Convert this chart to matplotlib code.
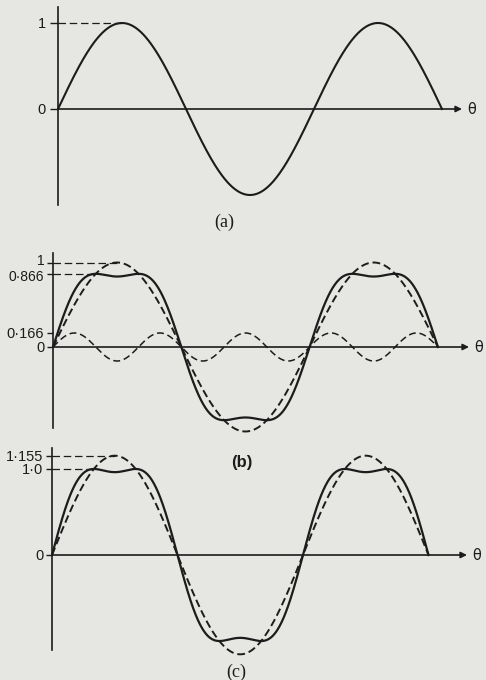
import numpy as np
import matplotlib.pyplot as plt
from matplotlib.transforms import ScaledTranslation

# values
half_cycles = 3                  # every trace runs from 0 to 3*pi
fund_amp = [1.0, 1.0, 1.155]     # peak of the plain sine in (a), (b), (c)
third_ratio = 0.166              # third harmonic, fraction of the fundamental
levels_a = [0, 1]
labels_a = ['0', '1']
levels_b = [0, 0.166, 0.866, 1]
labels_b = ['0', '0·166', '0·866', '1']
levels_c = [0, 1.0, 1.155]
labels_c = ['0', '1·0', '1·155']
panel_names = ['(a)', '(b)', '(c)']

W, H = 486, 680
ink = '#1c1c1c'
paper = '#e6e6e3'

fig = plt.figure(figsize=(W / 100, H / 100), dpi=100, facecolor=paper)


def panel(x0, x1, ytop, ybot, yzero, unit, px_pi, levels, labels, tick=4.3, pad=2):
    ax = fig.add_axes([x0 / W, 1 - ybot / H, (x1 - x0) / W, (ybot - ytop) / H])
    ax.set_facecolor('none')
    ax.set_xlim(0, (x1 - x0) / px_pi * np.pi)
    ax.set_ylim((yzero - ybot) / unit, (yzero - ytop) / unit)
    for s in ['top', 'right', 'bottom']:
        ax.spines[s].set_visible(False)
    ax.spines['left'].set_linewidth(1.2)
    ax.spines['left'].set_color(ink)
    ax.set_xticks([])
    ax.set_yticks(levels)
    ax.set_yticklabels(labels, fontsize=10.5, family='Liberation Sans', color=ink)
    ax.tick_params(axis='y', direction='out', length=tick, width=1.0, pad=pad, color=ink)
    ax.annotate('', xy=(ax.get_xlim()[1], 0), xytext=(0, 0),
                arrowprops=dict(arrowstyle='-|>', lw=1.2, color=ink,
                                mutation_scale=9, shrinkA=0, shrinkB=0))
    ax.annotate('θ', xy=(ax.get_xlim()[1], 0), xytext=(3.5, 0),
                textcoords='offset points', va='center', ha='left',
                fontsize=10.5, family='DejaVu Sans', color=ink)
    return ax


def ref_line(ax, th, y):
    i = np.argmax(y)
    ax.plot([0, th[i]], [y[i], y[i]], color=ink, lw=0.9, dashes=(6, 3),
            clip_on=False)


th = np.linspace(0, half_cycles * np.pi, 900)

# (a) plain sine
ax = panel(58, 462, 7, 205, 109, 86, 128, levels_a, labels_a, tick=6, pad=3)
ya = fund_amp[0] * np.sin(th)
ax.plot(th, ya, color=ink, lw=1.5, clip_on=False)
ref_line(ax, th, ya)

# (b) sine, third harmonic and their sum
ax = panel(53, 469, 253, 428, 347, 84.5, 128.3, levels_b, labels_b)
fb = fund_amp[1] * np.sin(th)
hb = fund_amp[1] * third_ratio * np.sin(3 * th)
sb = fb + hb
ax.plot(th, fb, color=ink, lw=1.4, dashes=(4, 2), clip_on=False)
ax.plot(th, hb, color=ink, lw=1.1, dashes=(4.5, 2.5), clip_on=False)
ax.plot(th, sb, color=ink, lw=1.6, clip_on=False)
ref_line(ax, th, fb)
ref_line(ax, th, sb)
# "1" and "0·866" sit very close: nudge them apart a little
tl = ax.get_yticklabels()
tl[3].set_transform(tl[3].get_transform() + ScaledTranslation(0, 2.5 / 72, fig.dpi_scale_trans))
tl[2].set_transform(tl[2].get_transform() + ScaledTranslation(0, -1.5 / 72, fig.dpi_scale_trans))
tl[3].set_fontsize(10)
tl[2].set_fontsize(10)

# (c) everything scaled up so the sum peaks at 1
ax = panel(52, 467, 448, 650, 555, 86, 125.5, levels_c, labels_c)
fc = fund_amp[2] * np.sin(th)
sc = fc + fund_amp[2] * third_ratio * np.sin(3 * th)
ax.plot(th, fc, color=ink, lw=1.4, dashes=(4, 2), clip_on=False)
ax.plot(th, sc, color=ink, lw=1.6, clip_on=False)
ref_line(ax, th, fc)
ref_line(ax, th, sc)

fig.text(224 / W, 1 - 222 / H, panel_names[0], ha='center', va='center',
         fontsize=13, family='Liberation Serif', color=ink)
fig.text(242 / W, 1 - 463 / H, panel_names[1], ha='center', va='center',
         fontsize=12, family='Liberation Sans', weight='bold', color=ink)
fig.text(236 / W, 1 - 672 / H, panel_names[2], ha='center', va='center',
         fontsize=13, family='Liberation Serif', color=ink)

fig.savefig('out.png', dpi=100, facecolor=paper)
